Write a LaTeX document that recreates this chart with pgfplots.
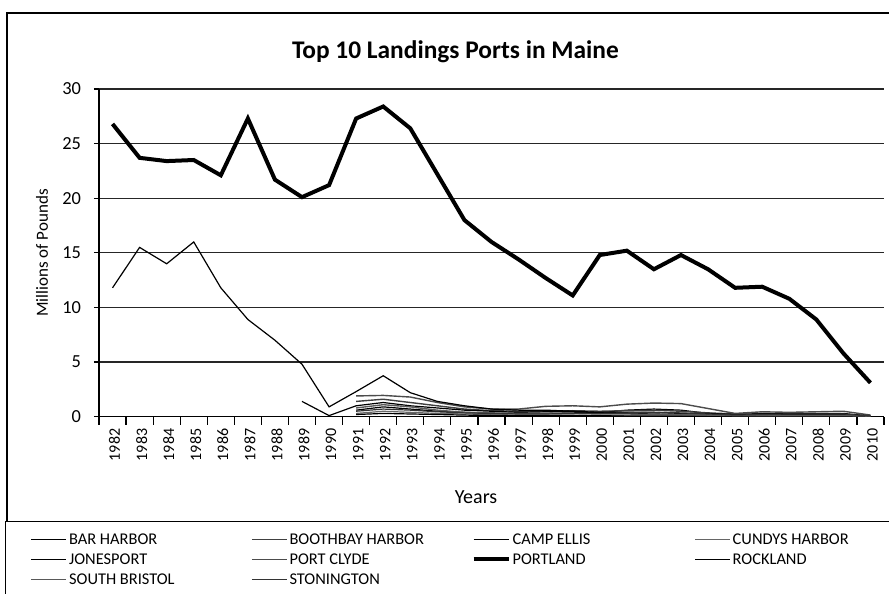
\documentclass[border=0pt]{standalone}
\usepackage{fontspec}
\setmainfont{Carlito}
\usepackage{pgfplots}
\pgfplotsset{compat=1.18}

\newcommand{\LE}[1]{\makebox[81.75pt][l]{#1}}

\begin{document}
\begin{tikzpicture}
\useasboundingbox (0,0) rectangle (444.5pt,-297pt);
\draw[line width=0.7pt] (3.5pt,-400pt) -- (3.5pt,-6.5pt) -- (470pt,-6.5pt);
\begin{axis}[
  at={(49.5pt,-208.35pt)}, anchor=south west,
  scale only axis, width=392.5pt, height=163.85pt,
  xmin=-0.5, xmax=28.5, ymin=0, ymax=30,
  axis x line*=bottom, axis y line*=left,
  axis line style={-, black, line width=0.7pt},
  /pgf/number format/assume math mode=true,
  xtick={0,...,28},
  xticklabels={1982,1983,1984,1985,1986,1987,1988,1989,1990,1991,1992,1993,1994,1995,1996,1997,1998,1999,2000,2001,2002,2003,2004,2005,2006,2007,2008,2009,2010},
  minor xtick={-0.5,0.5,...,28.5},
  major x tick style={draw=none},
  minor x tick style={black, line width=0.6pt},
  major y tick style={black, line width=0.6pt},
  minor tick length=4pt, major tick length=2.5pt,
  tick align=outside,
  ytick={0,5,...,30},
  ymajorgrids, grid style={black!85, line width=0.6pt},
  x tick label style={rotate=90, anchor=east, font=\fontsize{8}{9}\selectfont, yshift=-1pt},
  y tick label style={font=\fontsize{9.2}{10}\selectfont, xshift=-3pt},
  title={Top 10 Landings Ports in Maine},
  title style={at={(rel axis cs:0.454,1)}, anchor=base, yshift=9.35pt, font=\fontsize{12.7}{14}\selectfont\bfseries},
  xlabel={Years},
  xlabel style={at={(axis description cs:0.4803,0)}, anchor=center, yshift=-40.15pt, font=\fontsize{10}{12}\selectfont},
  ylabel={Millions of Pounds},
  ylabel style={at={(axis description cs:-0.0726,0.5)}, anchor=center, font=\fontsize{8.5}{10}\selectfont},
  legend columns=4,
  legend cell align=left,
  legend style={at={(axis description cs:-0.1197,-0.3183)}, anchor=north west,
    draw=black, line width=0.7pt, inner sep=4.25pt, row sep=1pt,
    font=\fontsize{8.2}{10}\selectfont,
    nodes={inner sep=1pt, text height=6pt, text depth=1pt}},
  legend image code/.code={\path (-8.25pt,0pt); \draw[#1] (0pt,0pt) -- (17.5pt,0pt);},
]
% BAR HARBOR
\addplot[black, line width=0.6pt] coordinates {
(9,0.6) (10,0.9) (11,0.7) (12,0.5) (13,0.4) (14,0.3) (15,0.3) (16,0.3) (17,0.35) (18,0.4) (19,0.6) (20,0.7) (21,0.6) (22,0.3) (23,0.2) (24,0.3) (25,0.3) (26,0.3) (27,0.3) (28,0.05)};
\addlegendentry{\LE{BAR HARBOR}}
% BOOTHBAY HARBOR
\addplot[black!75, line width=0.7pt] coordinates {
(9,1.4) (10,1.6) (11,1.3) (12,1.0) (13,0.7) (14,0.55) (15,0.5) (16,0.5) (17,0.55) (18,0.5) (19,0.55) (20,0.6) (21,0.5) (22,0.35) (23,0.25) (24,0.2) (25,0.2) (26,0.15) (27,0.15) (28,0.05)};
\addlegendentry{\LE{BOOTHBAY HARBOR}}
% CAMP ELLIS
\addplot[black, line width=0.6pt] coordinates {
(7,1.4) (8,0.1) (9,1.0) (10,1.3) (11,1.0) (12,0.8) (13,0.6) (14,0.5) (15,0.4) (16,0.45) (17,0.5) (18,0.3) (19,0.3) (20,0.25) (21,0.2) (22,0.15) (23,0.1) (24,0.1) (25,0.1) (26,0.05) (27,0.05) (28,0.02)};
\addlegendentry{\LE{CAMP ELLIS}}
% CUNDYS HARBOR
\addplot[black!60, line width=0.6pt] coordinates {
(9,0.3) (10,0.5) (11,0.4) (12,0.3) (13,0.25) (14,0.2) (15,0.15) (16,0.15) (17,0.15) (18,0.1) (19,0.1) (20,0.1) (21,0.1) (22,0.1) (23,0.05) (24,0.05) (25,0.05) (26,0.05) (27,0.05) (28,0.02)};
\addlegendentry{\LE{CUNDYS HARBOR}}
% JONESPORT
\addplot[black, line width=0.6pt] coordinates {
(9,0.2) (10,0.3) (11,0.25) (12,0.2) (13,0.15) (14,0.1) (15,0.1) (16,0.1) (17,0.1) (18,0.1) (19,0.05) (20,0.05) (21,0.05) (22,0.05) (23,0.05) (24,0.02) (25,0.02) (26,0.02) (27,0.02) (28,0.01)};
\addlegendentry{\LE{JONESPORT}}
% PORT CLYDE
\addplot[black!70, line width=0.7pt] coordinates {
(9,1.9) (10,1.95) (11,1.8) (12,1.3) (13,0.9) (14,0.7) (15,0.7) (16,0.95) (17,1.0) (18,0.9) (19,1.15) (20,1.25) (21,1.2) (22,0.75) (23,0.3) (24,0.45) (25,0.4) (26,0.45) (27,0.5) (28,0.15)};
\addlegendentry{\LE{PORT CLYDE}}
% PORTLAND
\addplot[black, line width=2pt] coordinates {
(0,26.8) (1,23.7) (2,23.4) (3,23.5) (4,22.1) (5,27.3) (6,21.7) (7,20.1) (8,21.2) (9,27.3) (10,28.4) (11,26.4) (12,22.2) (13,18.0) (14,16.0) (15,14.4) (16,12.7) (17,11.1) (18,14.8) (19,15.2) (20,13.5) (21,14.8) (22,13.5) (23,11.8) (24,11.9) (25,10.8) (26,8.9) (27,5.8) (28,3.1)};
\addlegendentry{\LE{PORTLAND}}
% ROCKLAND
\addplot[black, line width=0.6pt] coordinates {
(0,11.8) (1,15.5) (2,14.0) (3,16.0) (4,11.8) (5,8.9) (6,7.0) (7,4.8) (8,0.9) (9,2.3) (10,3.75) (11,2.2) (12,1.4) (13,1.0) (14,0.7) (15,0.6) (16,0.6) (17,0.5) (18,0.4) (19,0.4) (20,0.4) (21,0.3) (22,0.3) (23,0.2) (24,0.2) (25,0.2) (26,0.2) (27,0.2) (28,0.1)};
\addlegendentry{\LE{ROCKLAND}}
% SOUTH BRISTOL
\addplot[black!65, line width=0.7pt] coordinates {
(9,0.8) (10,1.1) (11,0.9) (12,0.6) (13,0.4) (14,0.35) (15,0.3) (16,0.3) (17,0.3) (18,0.25) (19,0.25) (20,0.2) (21,0.2) (22,0.15) (23,0.1) (24,0.1) (25,0.1) (26,0.1) (27,0.1) (28,0.05)};
\addlegendentry{\LE{SOUTH BRISTOL}}
% STONINGTON
\addplot[black!80, line width=0.6pt] coordinates {
(9,0.5) (10,0.7) (11,0.6) (12,0.45) (13,0.35) (14,0.3) (15,0.25) (16,0.25) (17,0.3) (18,0.3) (19,0.35) (20,0.4) (21,0.35) (22,0.25) (23,0.15) (24,0.2) (25,0.25) (26,0.25) (27,0.25) (28,0.05)};
\addlegendentry{\LE{STONINGTON}}
\end{axis}
\end{tikzpicture}
\end{document}
